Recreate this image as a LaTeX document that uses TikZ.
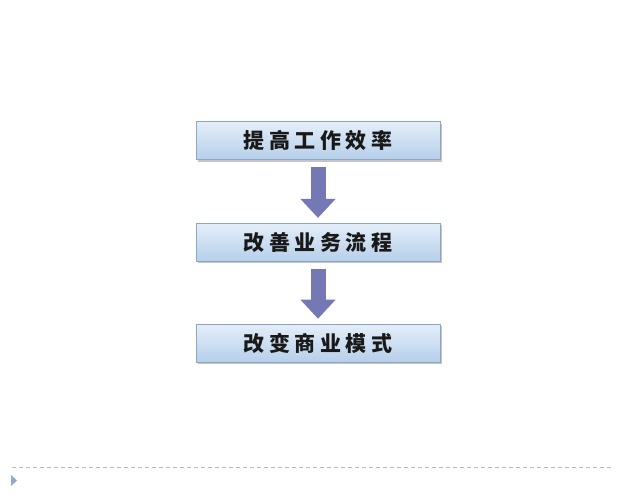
\documentclass[tikz,border=0pt]{standalone}
\usepackage{fontspec}
\newfontfamily\cjk[LetterSpace=22]{Noto Sans CJK SC}
\usetikzlibrary{arrows.meta, positioning, shadows}
\definecolor{boxtop}{HTML}{E4EEF9}
\definecolor{boxbot}{HTML}{B6CFEA}
\definecolor{boxline}{HTML}{8EA6C2}
\definecolor{carrow}{HTML}{7478B4}
\definecolor{cdash}{HTML}{B4BEC8}
\definecolor{ctri}{HTML}{8FAACB}

\tikzset{
  stepbox/.style={draw=boxline, line width=0.8pt, top color=boxtop, bottom color=boxbot,
    minimum width=244pt, minimum height=38pt, inner sep=0pt,
    drop shadow={shadow xshift=2pt, shadow yshift=-2pt, fill=black!45, opacity=0.5},
    font=\cjk\fontsize{21}{21}\selectfont\bfseries, text=black!90},
  bigarrow/.style={carrow, line width=15pt, -{Triangle[length=19pt, width=34pt]}}
}

\begin{document}
\begin{tikzpicture}[x=1pt, y=-1pt]
  \useasboundingbox[fill=white] (0,0) rectangle (640,501);

  % the three stages
  \node[stepbox] (gain) at (318,140.5) {提高工作效率};
  \node[stepbox, below=63pt of gain] (flow) {改善业务流程};
  \node[stepbox, below=62pt of flow] (model) {改变商业模式};

  % arrows between the stages
  \draw[bigarrow] ([yshift=-7pt]gain.south) -- ([yshift=5pt]flow.north);
  \draw[bigarrow] ([yshift=-7pt]flow.south) -- ([yshift=5pt]model.north);

  % footer rule and marker
  \coordinate (ruleL) at (12,467);
  \coordinate (ruleR) at (612,467);
  \draw[cdash, line width=1pt, dash pattern=on 4pt off 3pt] (ruleL) -- (ruleR);
  \fill[ctri] (11,475) -- (17,480.5) -- (11,486) -- cycle;
\end{tikzpicture}
\end{document}
